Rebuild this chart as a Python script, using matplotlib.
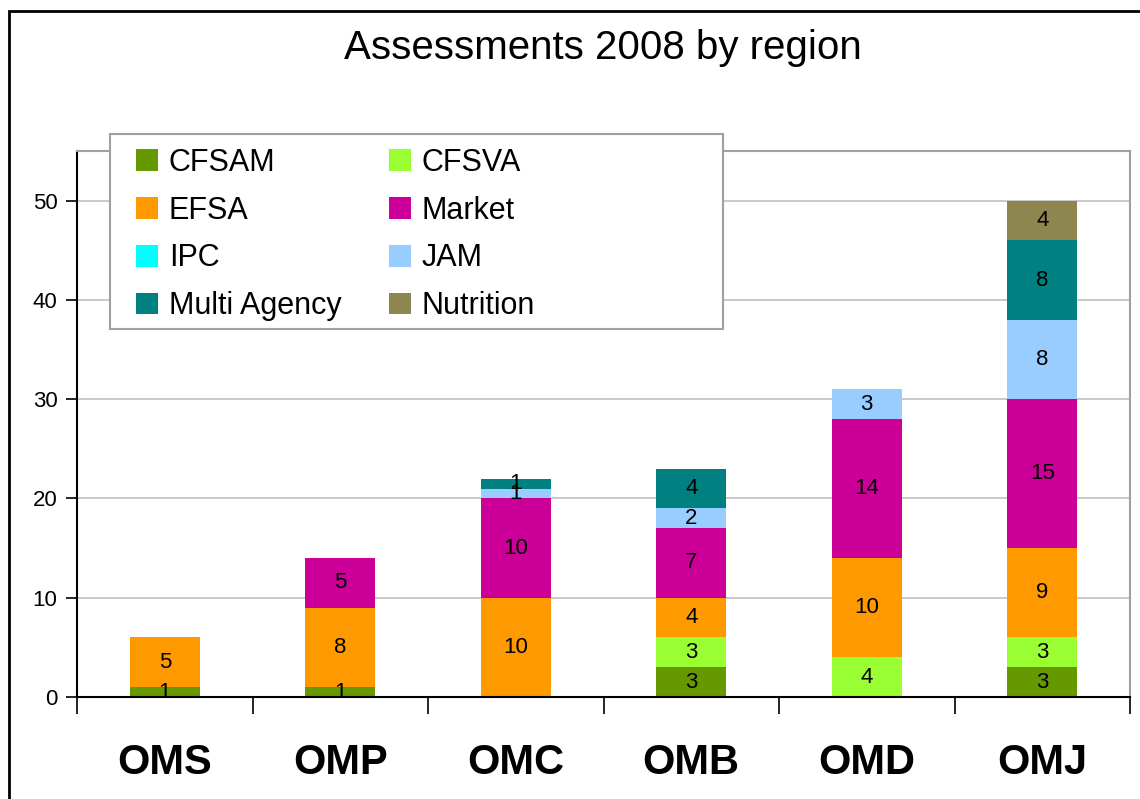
import matplotlib.pyplot as plt
from matplotlib.patches import Rectangle
import numpy as np

plt.rcParams['font.family'] = ['Liberation Sans', 'DejaVu Sans']

# Data
regions = ['OMS', 'OMP', 'OMC', 'OMB', 'OMD', 'OMJ']
types = ['CFSAM', 'CFSVA', 'EFSA', 'Market', 'IPC', 'JAM', 'Multi Agency', 'Nutrition']
cfsam = [1, 1, 0, 3, 0, 3]
cfsva = [0, 0, 0, 3, 4, 3]
efsa = [5, 8, 10, 4, 10, 9]
market = [0, 5, 10, 7, 14, 15]
ipc = [0, 0, 0, 0, 0, 0]
jam = [0, 0, 1, 2, 3, 8]
multi = [0, 0, 1, 4, 0, 8]
nutrition = [0, 0, 0, 0, 0, 4]
colors = ['#669900', '#99FF33', '#FF9900', '#CC0099', '#00FFFF', '#99CCFF', '#008080', '#8E8651']

series = [cfsam, cfsva, efsa, market, ipc, jam, multi, nutrition]

fig = plt.figure(figsize=(11.4, 7.99), dpi=100)
ax = fig.add_axes([77/1140, 1-697/799, (1130-77)/1140, (697-151)/799])

x = np.arange(len(regions))
bottom = np.zeros(len(regions))
handles = {}
for name, vals, c in zip(types, series, colors):
    vals = np.array(vals, dtype=float)
    bars = ax.bar(x, vals, 0.4, bottom=bottom, color=c, label=name, zorder=2)
    handles[name] = bars
    for xi, b, v in zip(x, bottom, vals):
        if v > 0:
            ax.text(xi, b + v / 2, f'{int(v)}', ha='center', va='center', fontsize=16, zorder=3)
    bottom += vals

ax.set_xlim(-0.5, len(regions) - 0.5)
ax.set_ylim(0, 55)
ax.set_yticks(range(0, 51, 10))
ax.yaxis.grid(True, color='#c0c0c0', linewidth=1.2, zorder=0)
ax.set_axisbelow(True)

# category boundaries as ticks, labels at centres
ax.set_xticks(np.arange(-0.5, len(regions)), minor=False)
ax.set_xticklabels([])
ax.set_xticks(x, minor=True)
ax.set_xticklabels(regions, minor=True, fontsize=30, fontweight='bold')
ax.tick_params(axis='x', which='major', length=12, direction='out', width=1.2)
ax.tick_params(axis='x', which='minor', length=0, pad=33)
ax.tick_params(axis='y', length=8, width=1.2, labelsize=16, pad=6)

for s in ['top', 'right']:
    ax.spines[s].set_color('#a0a0a0')
    ax.spines[s].set_linewidth(1.5)
for s in ['left', 'bottom']:
    ax.spines[s].set_linewidth(1.5)

fig.text(603/1140, 1-48/799, 'Assessments 2008 by region', ha='center', va='center', fontsize=29)

# legend box drawn separately so it can be wider than its entries
ax.add_patch(Rectangle((110/1140, 1-329/799), (723-110)/1140, (329-134)/799,
                       transform=fig.transFigure, facecolor='white', clip_on=False,
                       edgecolor='#a0a0a0', linewidth=1.5, zorder=5))

# legend: row-major order, two columns
order = ['CFSAM', 'EFSA', 'IPC', 'Multi Agency', 'CFSVA', 'Market', 'JAM', 'Nutrition']
leg = ax.legend([handles[n] for n in order], order, ncol=2, loc='upper left',
                bbox_to_anchor=(136/1140, 1-148/799), bbox_transform=fig.transFigure,
                borderaxespad=0, borderpad=0, fontsize=22, frameon=False,
                handlelength=0.72, handleheight=0.72, handletextpad=0.35,
                columnspacing=1.55, labelspacing=0.58)
leg.set_zorder(6)

# outer chart frame
fig.patches.append(Rectangle((9/1140, -0.05), 1.1, 1-11/799+0.05, transform=fig.transFigure,
                             fill=False, edgecolor='black', linewidth=2))

fig.savefig('out.png', dpi=100)
